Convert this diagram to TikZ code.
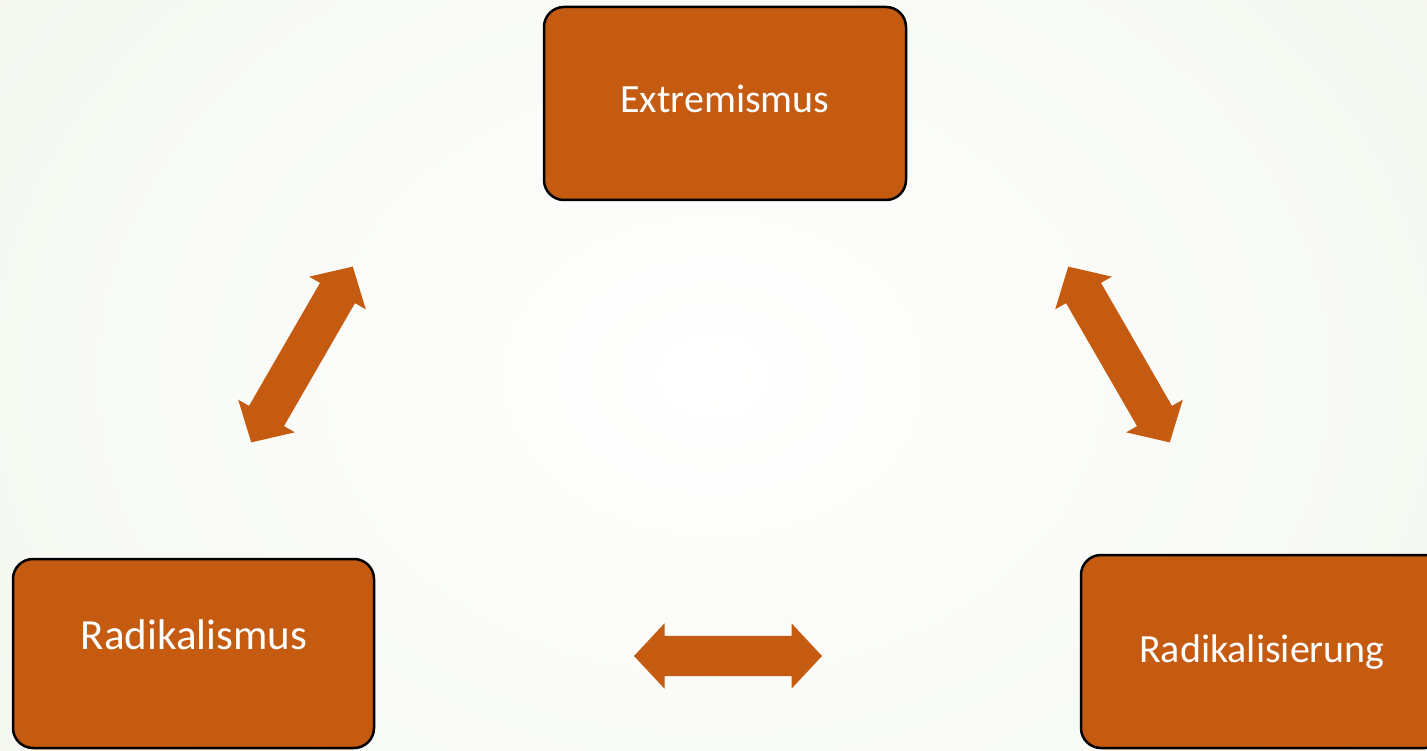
\documentclass[tikz,border=0pt]{standalone}
\usepackage{fontspec}
\setmainfont{Carlito}
\usetikzlibrary{shapes.arrows}
\definecolor{boxorange}{HTML}{C55A11}
\definecolor{bgedge}{HTML}{F3F6EE}
\tikzset{
  box/.style={draw=black, line width=2.5pt, fill=boxorange, rounded corners=20pt},
  lbl/.style={text=white, font=\fontsize{40}{48}\selectfont, anchor=base, inner sep=0pt},
  dbl/.style={double arrow, fill=boxorange, draw=none, inner xsep=0pt, inner ysep=20pt,
    minimum height=#1, double arrow head extend=12.5pt,
    double arrow tip angle=94}
}
\begin{document}
\begin{tikzpicture}[x=1pt,y=-1pt]
\useasboundingbox (0,0) rectangle (1427,751);
\shade[inner color=white, outer color=bgedge] (-300,-400) rectangle (1727,1151);
\begin{scope}
\clip (0,0) rectangle (1427,751);
\draw[box] (544,7) rectangle (906,200);
\draw[box] (13,559) rectangle (374,748);
\draw[box] (1081,555) rectangle (1445,748);
\end{scope}
\node[lbl] (t1) at (725,113) {Extremismus};
\node[lbl, font=\fontsize{43}{50}\selectfont] (t2) at (194,649) {Radikalismus};
\node[lbl] (t3) at (1262,662) {Radikalisierung};
\node[dbl=188pt] (a1) at (728,656) {};
\node[dbl=203pt, rotate=60] (a2) at (302,354.5) {};
\node[dbl=203pt, rotate=-60] (a3) at (1119,354.5) {};
\end{tikzpicture}
\end{document}
